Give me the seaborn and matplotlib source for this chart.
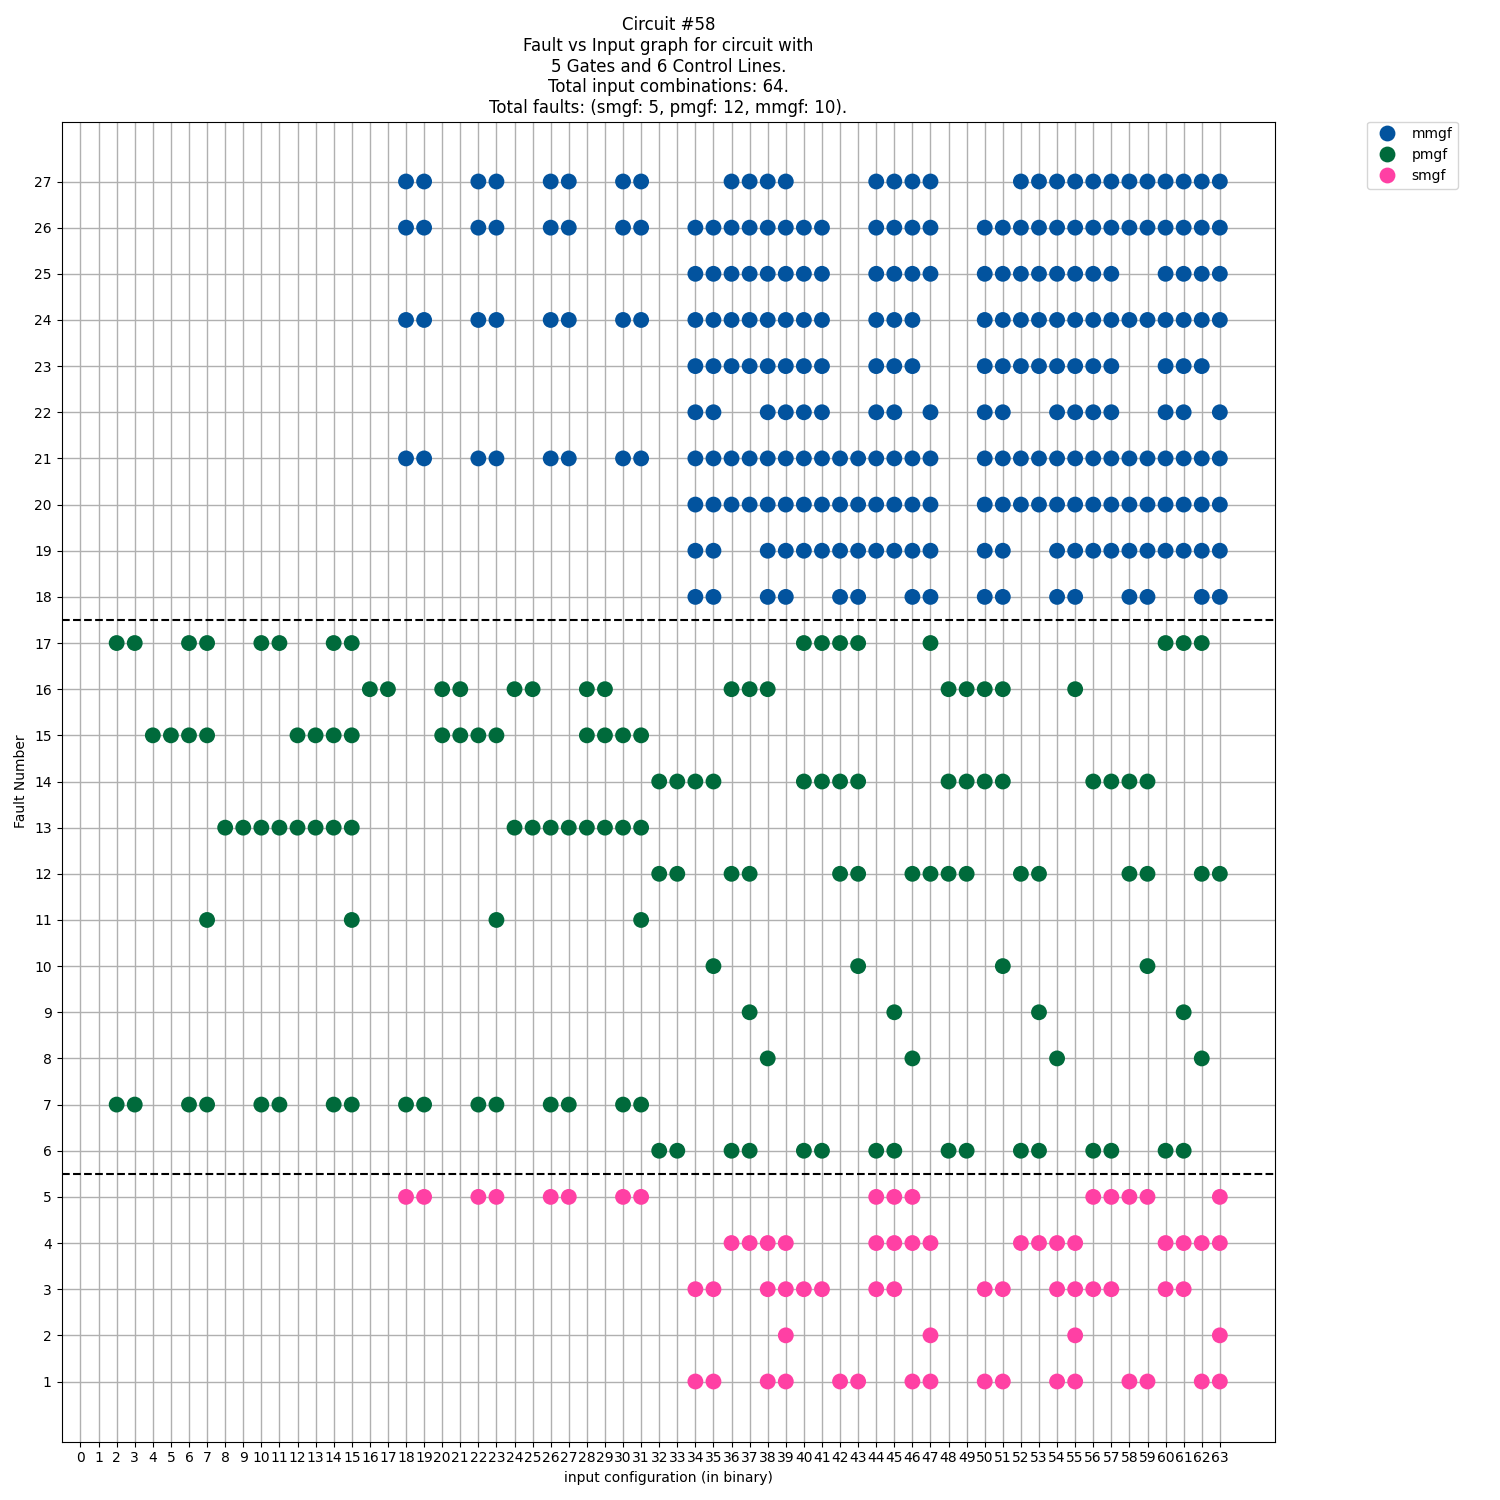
import numpy as np
import pandas as pd
import seaborn as sns
import matplotlib.pyplot as plt

# fault number -> input configurations where the fault is detected
mmgf_hits = {
    27: [18, 19, 22, 23, 26, 27, 30, 31, 36, 37, 38, 39, 44, 45, 46, 47, 52, 53, 54, 55, 56, 57, 58, 59, 60, 61, 62, 63],
    26: [18, 19, 22, 23, 26, 27, 30, 31, 34, 35, 36, 37, 38, 39, 40, 41, 44, 45, 46, 47,
         50, 51, 52, 53, 54, 55, 56, 57, 58, 59, 60, 61, 62, 63],
    25: [34, 35, 36, 37, 38, 39, 40, 41, 44, 45, 46, 47, 50, 51, 52, 53, 54, 55, 56, 57, 60, 61, 62, 63],
    24: [18, 19, 22, 23, 26, 27, 30, 31, 34, 35, 36, 37, 38, 39, 40, 41, 44, 45, 46,
         50, 51, 52, 53, 54, 55, 56, 57, 58, 59, 60, 61, 62, 63],
    23: [34, 35, 36, 37, 38, 39, 40, 41, 44, 45, 46, 50, 51, 52, 53, 54, 55, 56, 57, 60, 61, 62],
    22: [34, 35, 38, 39, 40, 41, 44, 45, 47, 50, 51, 54, 55, 56, 57, 60, 61, 63],
    21: [18, 19, 22, 23, 26, 27, 30, 31, 34, 35, 36, 37, 38, 39, 40, 41, 42, 43, 44, 45, 46, 47,
         50, 51, 52, 53, 54, 55, 56, 57, 58, 59, 60, 61, 62, 63],
    20: [34, 35, 36, 37, 38, 39, 40, 41, 42, 43, 44, 45, 46, 47,
         50, 51, 52, 53, 54, 55, 56, 57, 58, 59, 60, 61, 62, 63],
    19: [34, 35, 38, 39, 40, 41, 42, 43, 44, 45, 46, 47, 50, 51, 54, 55, 56, 57, 58, 59, 60, 61, 62, 63],
    18: [34, 35, 38, 39, 42, 43, 46, 47, 50, 51, 54, 55, 58, 59, 62, 63],
}
pmgf_hits = {
    17: [2, 3, 6, 7, 10, 11, 14, 15, 40, 41, 42, 43, 47, 60, 61, 62],
    16: [16, 17, 20, 21, 24, 25, 28, 29, 36, 37, 38, 48, 49, 50, 51, 55],
    15: [4, 5, 6, 7, 12, 13, 14, 15, 20, 21, 22, 23, 28, 29, 30, 31],
    14: [32, 33, 34, 35, 40, 41, 42, 43, 48, 49, 50, 51, 56, 57, 58, 59],
    13: [8, 9, 10, 11, 12, 13, 14, 15, 24, 25, 26, 27, 28, 29, 30, 31],
    12: [32, 33, 36, 37, 42, 43, 46, 47, 48, 49, 52, 53, 58, 59, 62, 63],
    11: [7, 15, 23, 31],
    10: [35, 43, 51, 59],
    9: [37, 45, 53, 61],
    8: [38, 46, 54, 62],
    7: [2, 3, 6, 7, 10, 11, 14, 15, 18, 19, 22, 23, 26, 27, 30, 31],
    6: [32, 33, 36, 37, 40, 41, 44, 45, 48, 49, 52, 53, 56, 57, 60, 61],
}
smgf_hits = {
    5: [18, 19, 22, 23, 26, 27, 30, 31, 44, 45, 46, 56, 57, 58, 59, 63],
    4: [36, 37, 38, 39, 44, 45, 46, 47, 52, 53, 54, 55, 60, 61, 62, 63],
    3: [34, 35, 38, 39, 40, 41, 44, 45, 50, 51, 54, 55, 56, 57, 60, 61],
    2: [39, 47, 55, 63],
    1: [34, 35, 38, 39, 42, 43, 46, 47, 50, 51, 54, 55, 58, 59, 62, 63],
}

fault_types = ['mmgf', 'pmgf', 'smgf']
colors = {'mmgf': '#02539e', 'pmgf': '#006a3b', 'smgf': '#ff40a4'}
n_inputs = 64
n_faults = 27

rows = []
for name, hits in zip(fault_types, [mmgf_hits, pmgf_hits, smgf_hits]):
    for fault, inputs in hits.items():
        for inp in inputs:
            rows.append({'input': inp, 'fault': fault, 'type': name})
df = pd.DataFrame(rows)

fig = plt.figure(figsize=(15, 15), dpi=100)
ax = fig.add_axes([0.041, 0.039, 0.809, 0.88])
ax.set_axisbelow(True)
ax.grid(True, color='#b0b0b0', linewidth=1)

sns.scatterplot(data=df, x='input', y='fault', hue='type', hue_order=fault_types,
                palette=colors, s=130, linewidth=0, ax=ax)

ax.axhline(5.5, color='black', linestyle='--', linewidth=1.5)
ax.axhline(17.5, color='black', linestyle='--', linewidth=1.5)

ax.set_xticks(np.arange(n_inputs))
ax.set_yticks(np.arange(1, n_faults + 1))
ax.set_xlim(-1.05, 66.05)
ax.set_ylim(-0.3, 28.3)
ax.set_xlabel('input configuration (in binary)')
ax.set_ylabel('Fault Number')
ax.set_title('Circuit #58\nFault vs Input graph for circuit with\n5 Gates and 6 Control Lines.\n'
             'Total input combinations: 64.\nTotal faults: (smgf: 5, pmgf: 12, mmgf: 10).')

ax.legend(loc='upper left', bbox_to_anchor=(1.076, 1.0), borderaxespad=0)

plt.savefig('out.png', dpi=100)
